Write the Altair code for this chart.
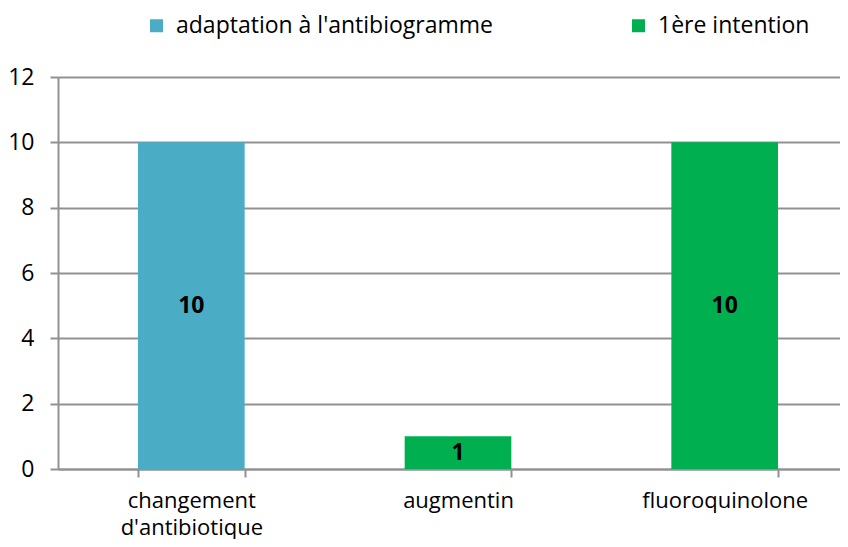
import altair as alt
import pandas as pd

categories = ["changement d'antibiotique", "augmentin", "fluoroquinolone"]
series = ["adaptation à l'antibiogramme", "1ère intention", "1ère intention"]
values = [10, 1, 10]
series_order = ["adaptation à l'antibiogramme", "1ère intention"]
colors = ["#4BACC6", "#00B050"]
y_ticks = [0, 2, 4, 6, 8, 10, 12]

df = pd.DataFrame({"cat": categories, "serie": series, "val": values})

FONT = "Open Sans"
FS = 23
GRAY = "#919191"

x = alt.X("cat:N", sort=categories, title=None,
          scale=alt.Scale(paddingInner=0.6, paddingOuter=0.3, range=[0, 800]),
          axis=alt.Axis(labelAngle=0, labelExpr="split(datum.label, ' ')",
                        labelFont=FONT, labelFontSize=22, labelColor="#000",
                        labelPadding=13, labelLineHeight=27,
                        domainColor=GRAY, domainWidth=2,
                        tickBand="extent", tickColor=GRAY, tickWidth=2, tickSize=8,
                        grid=False))
y = alt.Y("val:Q", title=None,
          scale=alt.Scale(domain=[0, 12], nice=False),
          axis=alt.Axis(values=y_ticks, labelFont=FONT, labelFontSize=FS, labelColor="#000",
                        labelPadding=16, gridColor=GRAY, gridWidth=2,
                        domainColor=GRAY, domainWidth=2,
                        tickColor=GRAY, tickWidth=2, tickSize=8))

bars = alt.Chart(df).mark_bar().encode(
    x=x, y=y,
    color=alt.Color("serie:N", sort=series_order,
                    scale=alt.Scale(domain=series_order, range=colors),
                    legend=alt.Legend(title=None, orient="none", direction="horizontal",
                                      columns=2, legendX=87, legendY=-63,
                                      symbolType="square", symbolSize=169,
                                      symbolStrokeWidth=0, labelFont=FONT,
                                      labelFontSize=FS, labelColor="#000",
                                      labelOffset=8, columnPadding=134,
                                      labelLimit=600)),
)

labels = alt.Chart(df).mark_text(font=FONT, fontSize=FS, fontWeight="bold", color="#000").encode(
    x=alt.X("cat:N", sort=categories),
    y=alt.Y("mid:Q"),
    text=alt.Text("val:Q"),
).transform_calculate(mid="datum.val / 2")

chart = (bars + labels).properties(
    width=782, height=392,
    autosize=alt.AutoSizeParams(type="none"),
    padding={"left": 50, "top": 69, "right": 0, "bottom": 70},
).configure_view(stroke=None)

chart.save("out.html", embed_options={"renderer": "svg", "actions": False})
